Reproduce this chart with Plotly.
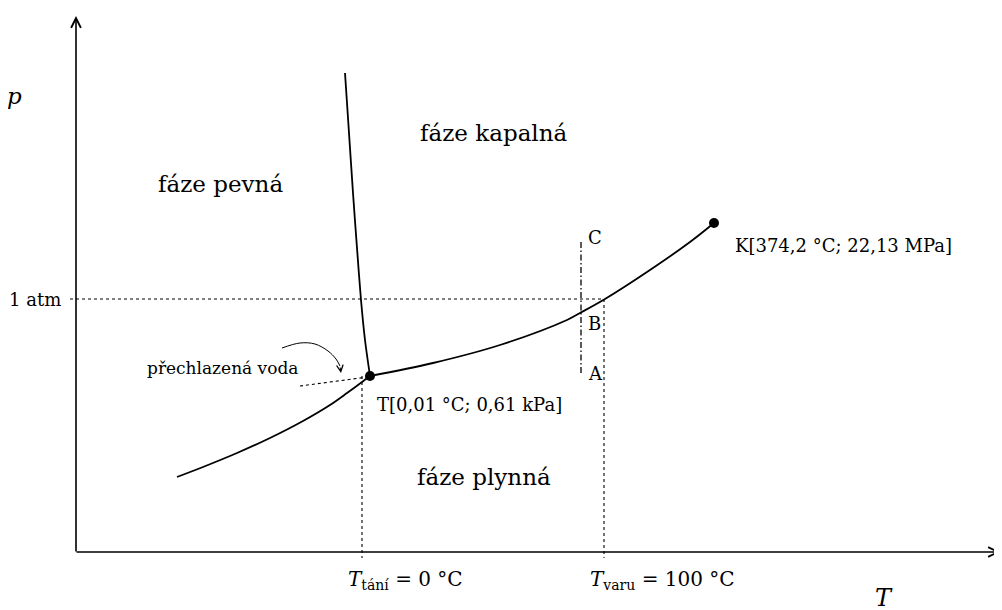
import plotly.graph_objects as go

# Schematic coordinates (origin at axis crossing, 1 unit ~ 1 px)
melt_T = [269, 273, 277, 281, 285, 289, 294]
melt_p = [479, 419, 359, 304, 252, 212, 176]

subl_T = [101, 127, 161, 194, 227, 254, 271, 286, 294]
subl_p = [75, 85, 99, 114, 131, 147, 159, 170, 176]

vap_T = [294, 357, 424, 491, 504, 529, 574, 614, 638]
vap_p = [176, 189, 207, 232, 239, 253, 282, 310, 329]

super_T = [224, 292]
super_p = [166, 175]

triple = (294, 176)
critical = (638, 329)
p_atm = 253
T_melt = 286
T_boil = 528
path_T = 505
path_p = [179, 310]

arrow_T = [206, 224, 239, 252, 260, 264]
arrow_p = [204, 209, 208, 201, 193, 186]

FONT = "DejaVu Serif"
fig = go.Figure()

def line(x, y, width=1.8, dash="solid", shape="linear", smoothing=1.0):
    fig.add_trace(go.Scatter(x=x, y=y, mode="lines",
                             line=dict(color="black", width=width, dash=dash, shape=shape,
                                       smoothing=smoothing),
                             hoverinfo="skip", showlegend=False))

# guides
line([-6, T_boil], [p_atm, p_atm], 1.1, "dot")
line([T_melt, T_melt], [triple[1], -6], 1.1, "dot")
line([T_boil, T_boil], [p_atm, -6], 1.1, "dot")
line(super_T, super_p, 1.1, "dot")
# phase curves
line(melt_T, melt_p, shape="spline", smoothing=0.8)
line(subl_T, subl_p, shape="spline", smoothing=0.8)
line(vap_T, vap_p, shape="spline")
# path C-B-A
line([path_T, path_T], path_p, 1.3, "6px,2.5px,1.5px,2.5px")
# curved pointer
line(arrow_T, arrow_p, 1.0, shape="spline")
fig.add_annotation(x=arrow_T[-1] + 1, y=arrow_p[-1] - 7, ax=arrow_T[-1], ay=arrow_p[-1],
                   xref="x", yref="y", axref="x", ayref="y", text="",
                   showarrow=True, arrowhead=5, arrowsize=1.3, arrowwidth=1, arrowcolor="black")
# points
fig.add_trace(go.Scatter(x=[triple[0], critical[0]], y=[triple[1], critical[1]], mode="markers",
                         marker=dict(color="black", size=10), hoverinfo="skip", showlegend=False))

# axes with arrows
fig.add_annotation(x=924, y=0, ax=-1, ay=0, xref="x", yref="y", axref="x", ayref="y",
                   text="", showarrow=True, arrowhead=5, arrowsize=1.2, arrowwidth=1.6, arrowcolor="black")
fig.add_annotation(x=0, y=536, ax=0, ay=-1, xref="x", yref="y", axref="x", ayref="y",
                   text="", showarrow=True, arrowhead=5, arrowsize=1.2, arrowwidth=1.6, arrowcolor="black")

def text(x, y, s, size=19, xanchor="center"):
    fig.add_annotation(x=x, y=y, text=s, showarrow=False, xanchor=xanchor, yanchor="middle",
                       font=dict(family=FONT, size=size, color="black"))

text(418, 419, "fáze kapalná", 23)
text(144, 368, "fáze pevná", 23)
text(408, 75, "fáze plynná", 23)
text(224, 184, "přechlazená voda", 17, "right")
text(299, 148, "T[0,01 °C; 0,61 kPa]", 18, "left")
text(657, 307, "K[374,2 °C; 22,13 MPa]", 18, "left")
text(510, 315, "C", 18, "left")
text(510, 229, "B", 18, "left")
text(510, 179, "A", 18, "left")
text(-13, p_atm, "1 atm", 18, "right")
text(-62, 456, "<i>p</i>", 23)
text(329, -28, "<i>T</i><sub>tání</sub> = 0 °C", 20)
text(586, -28, "<i>T</i><sub>varu</sub> = 100 °C", 20)
text(808, -46, "<i>T</i>", 24)

# page body has an 8px margin: offset axis ranges so marks land at the reference pixels
fig.update_layout(width=1002, height=610, margin=dict(l=0, r=0, t=0, b=0),
                  paper_bgcolor="white", plot_bgcolor="white",
                  xaxis=dict(range=[-68, 934], visible=False, fixedrange=True),
                  yaxis=dict(range=[-66, 544], visible=False, fixedrange=True))
fig.write_html("out.html")
